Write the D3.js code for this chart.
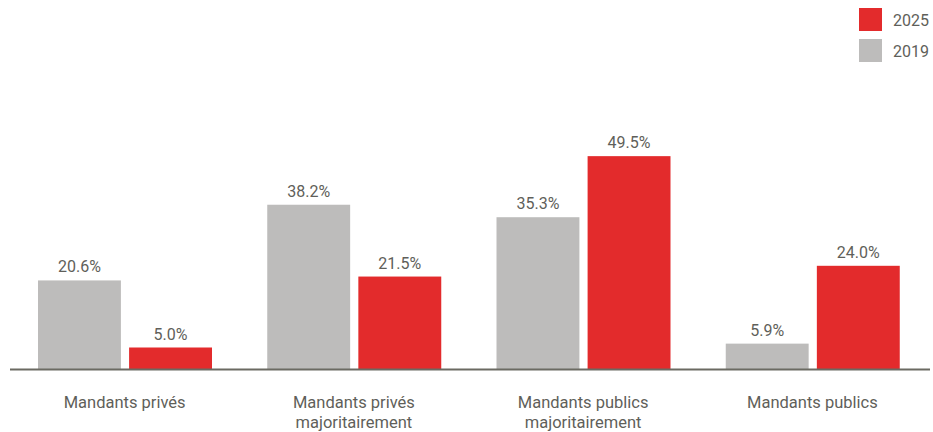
<!DOCTYPE html>
<html>
<head>
<meta charset="utf-8">
<script src="https://cdn.jsdelivr.net/npm/d3@7"></script>
<style>
  body { margin: 0; background: #fff; }
  text { font-family: Roboto, "Noto Sans", sans-serif; fill: #5f5f5a; }
</style>
</head>
<body>
<div id="chart"></div>
<script>
// data
var categories = ["Mandants privés", "Mandants privés\nmajoritairement", "Mandants publics\nmajoritairement", "Mandants publics"];
var years = ["2019", "2025"];
var values2019 = [20.6, 38.2, 35.3, 5.9];
var values2025 = [5.0, 21.5, 49.5, 24.0];
var legendYears = ["2025", "2019"];

var colors = { "2019": "#bdbcbb", "2025": "#e32b2c" };

var width = 933, height = 432;
var baseline = 369;

var svg = d3.select("#chart").append("svg")
    .attr("width", width)
    .attr("height", height);

var data = categories.map(function (c, i) {
    return { cat: c, "2019": values2019[i], "2025": values2025[i] };
});

// scales
var x0 = d3.scaleBand().domain(categories).range([10, 927]);
var x1 = d3.scaleBand().domain(years)
    .range([28, 28 + 174])
    .paddingInner(0.09);
var y = d3.scaleLinear().domain([0, 50]).range([baseline, baseline - 215]);

// bars
var groups = svg.selectAll(".group")
    .data(data)
    .enter().append("g")
    .attr("class", "group")
    .attr("transform", function (d) { return "translate(" + x0(d.cat) + ",0)"; });

groups.selectAll("rect")
    .data(function (d) { return years.map(function (k) { return { key: k, value: d[k] }; }); })
    .enter().append("rect")
    .attr("x", function (d) { return x1(d.key); })
    .attr("width", x1.bandwidth())
    .attr("y", function (d) { return y(d.value); })
    .attr("height", function (d) { return baseline - y(d.value); })
    .attr("fill", function (d) { return colors[d.key]; });

groups.selectAll(".val")
    .data(function (d) { return years.map(function (k) { return { key: k, value: d[k] }; }); })
    .enter().append("text")
    .attr("class", "val")
    .attr("x", function (d) { return x1(d.key) + x1.bandwidth() / 2; })
    .attr("y", function (d) { return y(d.value) - 8; })
    .attr("text-anchor", "middle")
    .style("font-size", "16px")
    .text(function (d) { return d.value.toFixed(1) + "%"; });

// x axis line
svg.append("line")
    .attr("x1", 10).attr("x2", 930)
    .attr("y1", baseline + 0.5).attr("y2", baseline + 0.5)
    .attr("stroke", "#6b6a62")
    .attr("stroke-width", 2);

// category labels
var catLabels = svg.selectAll(".cat")
    .data(categories)
    .enter().append("text")
    .attr("class", "cat")
    .attr("text-anchor", "middle")
    .attr("x", function (d) { return x0(d) + x0.bandwidth() / 2; })
    .attr("y", 408)
    .style("font-size", "16.5px");

catLabels.selectAll("tspan")
    .data(function (d) { return d.split("\n"); })
    .enter().append("tspan")
    .attr("x", function () { return d3.select(this.parentNode).attr("x"); })
    .attr("dy", function (d, i) { return i === 0 ? 0 : 20; })
    .text(function (d) { return d; });

// legend
var legend = svg.selectAll(".legend")
    .data(legendYears)
    .enter().append("g")
    .attr("class", "legend")
    .attr("transform", function (d, i) { return "translate(859," + (8 + i * 31) + ")"; });

legend.append("rect")
    .attr("width", 23).attr("height", 23)
    .attr("fill", function (d) { return colors[d]; });

legend.append("text")
    .attr("x", 34).attr("y", 18)
    .style("font-size", "16px")
    .text(function (d) { return d; });
</script>
</body>
</html>
